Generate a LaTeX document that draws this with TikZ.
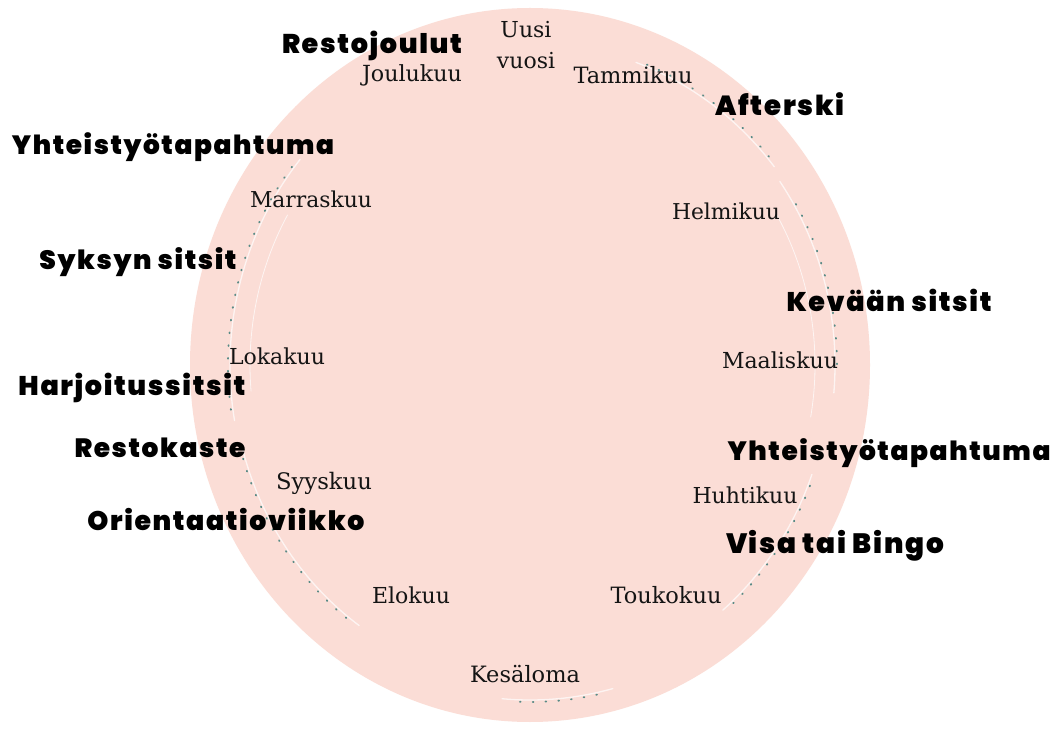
\documentclass[tikz,border=0pt]{standalone}
\usepackage{fontspec}
\setmainfont{DejaVu Serif}
\IfFontExistsTF{Poppins Black}{%
  \newfontfamily\evfont[LetterSpace=6]{Poppins Black}}{%
  \newfontfamily\evfont[LetterSpace=6,FakeBold=3]{Poppins Bold}}
\newcommand\fitw[2]{\resizebox{#1pt}{!}{#2}}
\definecolor{blush}{RGB}{251,221,214}
\definecolor{speck}{RGB}{60,125,120}
\tikzset{
  month/.style={font=\fontsize{22}{31}\selectfont, text=black!92, inner sep=0pt, align=center},
  event/.style={font=\evfont\fontsize{26}{28}\selectfont, text=black, inner sep=0pt},
  streak/.style={draw=white, line width=1.3pt, opacity=0.7, line cap=round},
  dots/.style={draw=speck, line width=1.8pt, dash pattern=on 0.8pt off 12pt, line cap=round, opacity=0.85}
}
\begin{document}
\begin{tikzpicture}[x=1pt,y=1pt]
  \useasboundingbox (0,0) rectangle (1063,729);
  \fill[white] (0,0) rectangle (1063,729);
  % brush circle
  \coordinate (c) at (530,364);
  \fill[blush] (c) ellipse [x radius=340, y radius=357];
  % white brush streaks
  \draw[streak] (c) ++(70:310 and 322) arc[start angle=70, end angle=38, x radius=310, y radius=322];
  \draw[streak] (c) ++(35:305 and 320) arc[start angle=35, end angle=-5, x radius=305, y radius=320];
  \draw[streak, line width=0.8pt] (c) ++(30:285 and 300) arc[start angle=30, end angle=-10, x radius=285, y radius=300];
  \draw[streak] (c) ++(-20:300 and 320) arc[start angle=-20, end angle=-50, x radius=300, y radius=320];
  \draw[streak] (c) ++(-75:320 and 335) arc[start angle=-75, end angle=-95, x radius=320, y radius=335];
  \draw[streak] (c) ++(140:300 and 320) arc[start angle=140, end angle=190, x radius=300, y radius=320];
  \draw[streak, line width=0.8pt] (c) ++(150:280 and 300) arc[start angle=150, end angle=185, x radius=280, y radius=300];
  \draw[streak] (c) ++(195:298 and 318) arc[start angle=195, end angle=235, x radius=298, y radius=318];
  % teal specks
  \draw[dots] (c) ++(68:312 and 324) arc[start angle=68, end angle=40, x radius=312, y radius=324];
  \draw[dots] (c) ++(30:307 and 322) arc[start angle=30, end angle=-2, x radius=307, y radius=322];
  \draw[dots] (c) ++(-22:302 and 322) arc[start angle=-22, end angle=-48, x radius=302, y radius=322];
  \draw[dots] (c) ++(142:302 and 322) arc[start angle=142, end angle=188, x radius=302, y radius=322];
  \draw[dots] (c) ++(197:300 and 320) arc[start angle=197, end angle=233, x radius=300, y radius=320];
  \draw[dots] (c) ++(-78:322 and 337) arc[start angle=-78, end angle=-93, x radius=322, y radius=337];
  % months
  \node[month] (uusi) at (526,684) {Uusi\\vuosi};
  \node[month] (jou) at (412,654) {\fitw{100}{Joulukuu}};
  \node[month] (tam) at (633,654) {\fitw{119}{Tammikuu}};
  \node[month] (mar) at (311,530) {\fitw{122}{Marraskuu}};
  \node[month] (hel) at (726,518) {\fitw{108}{Helmikuu}};
  \node[month] (lok) at (277,373) {\fitw{96}{Lokakuu}};
  \node[month] (maa) at (780,369) {\fitw{116}{Maaliskuu}};
  \node[month] (syy) at (324,246) {\fitw{96}{Syyskuu}};
  \node[month] (huh) at (745,234) {\fitw{105}{Huhtikuu}};
  \node[month] (elo) at (411,134) {\fitw{78}{Elokuu}};
  \node[month] (tou) at (666,134) {\fitw{111}{Toukokuu}};
  \node[month] (kes) at (525,55) {\fitw{110}{Kesäloma}};
  % events
  \node[event] (resj) at (372,683) {\fitw{180}{Restojoulut}};
  \node[event] (aft) at (780,625) {\fitw{129}{Afterski}};
  \node[event] (yhtl) at (173,582) {\fitw{322}{Yhteistyötapahtuma}};
  \node[event] (syk) at (138,467) {\fitw{197}{Syksyn sitsit}};
  \node[event] (kev) at (889,429) {\fitw{205}{Kevään sitsit}};
  \node[event] (har) at (132,341) {\fitw{227}{Harjoitussitsit}};
  \node[event] (resk) at (160,281) {\fitw{171}{Restokaste}};
  \node[event] (yhtr) at (889,276) {\fitw{323}{Yhteistyötapahtuma}};
  \node[event] (ori) at (226,210) {\fitw{277}{Orientaatioviikko}};
  \node[event] (vis) at (835,183) {\fitw{218}{Visa tai Bingo}};
\end{tikzpicture}
\end{document}
